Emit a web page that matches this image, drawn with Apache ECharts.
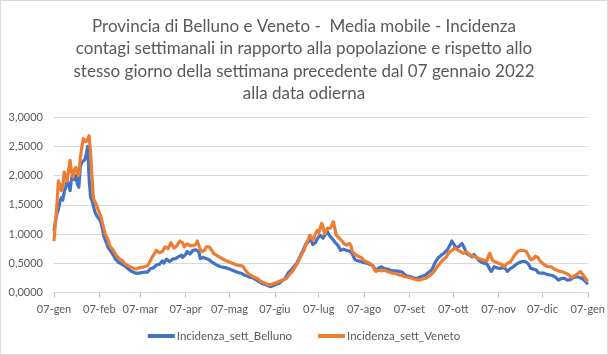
<!DOCTYPE html>
<html><head><meta charset="utf-8">
<script src="https://cdn.jsdelivr.net/npm/echarts@6/dist/echarts.min.js"></script>
<style>
html,body{margin:0;padding:0;background:#fff;}
#c{position:absolute;left:0;top:0;width:608px;height:355px;}
#b{position:absolute;left:0;top:0;width:606px;height:353px;border:1px solid #d9d9d9;pointer-events:none;}
</style></head>
<body><div id="c"></div><div id="b"></div>
<script>
const titleLines = [
  'Provincia di Belluno e Veneto -  Media mobile - Incidenza',
  'contagi settimanali in rapporto alla popolazione e rispetto allo',
  'stesso giorno della settimana precedente dal 07 gennaio 2022',
  'alla data odierna'
];
const monthNames = ['gen','feb','mar','apr','mag','giu','lug','ago','set','ott','nov','dic'];
const startDate = [2022, 0, 7];
const dayCount = 366;
const seriesNames = ['Incidenza_sett_Belluno', 'Incidenza_sett_Veneto'];

const belluno = [
1.05,1.22,1.35,1.42,1.55,1.62,1.58,1.72,1.80,1.90,
1.85,1.74,1.95,2.03,1.93,2.00,1.85,1.80,2.15,2.22,
2.20,2.27,2.35,2.50,1.95,1.63,1.57,1.55,1.38,1.32,
1.30,1.25,1.20,1.10,0.97,0.90,0.84,0.77,0.74,0.70,
0.68,0.62,0.57,0.56,0.52,0.50,0.49,0.46,0.46,0.44,
0.42,0.40,0.38,0.38,0.35,0.34,0.33,0.32,0.33,0.32,
0.34,0.33,0.35,0.36,0.35,0.38,0.41,0.44,0.42,0.44,
0.47,0.50,0.48,0.51,0.54,0.50,0.52,0.57,0.55,0.53,
0.55,0.57,0.60,0.58,0.56,0.61,0.61,0.64,0.60,0.62,
0.65,0.70,0.70,0.66,0.68,0.72,0.70,0.73,0.72,0.70,
0.58,0.55,0.60,0.61,0.58,0.59,0.56,0.53,0.52,0.50,
0.49,0.47,0.46,0.45,0.44,0.45,0.43,0.42,0.42,0.41,
0.40,0.39,0.38,0.37,0.36,0.35,0.34,0.33,0.33,0.32,
0.30,0.29,0.28,0.27,0.26,0.25,0.25,0.23,0.22,0.20,
0.19,0.17,0.16,0.15,0.14,0.13,0.12,0.11,0.10,0.11,
0.12,0.13,0.14,0.14,0.16,0.18,0.20,0.21,0.24,0.28,
0.33,0.36,0.38,0.40,0.44,0.47,0.50,0.55,0.60,0.66,
0.70,0.76,0.82,0.85,0.87,0.93,0.88,0.82,0.81,0.86,
0.92,0.95,0.98,0.96,0.93,0.97,1.00,1.04,1.02,0.95,
0.92,0.90,0.86,0.83,0.81,0.78,0.72,0.70,0.74,0.73,
0.72,0.70,0.71,0.70,0.66,0.60,0.56,0.55,0.54,0.53,
0.53,0.52,0.51,0.50,0.50,0.49,0.48,0.47,0.46,0.42,
0.38,0.40,0.42,0.44,0.44,0.42,0.41,0.40,0.40,0.39,
0.38,0.38,0.37,0.38,0.37,0.36,0.36,0.36,0.35,0.32,
0.30,0.29,0.28,0.27,0.27,0.26,0.25,0.24,0.24,0.25,
0.26,0.27,0.28,0.29,0.30,0.32,0.34,0.36,0.38,0.42,
0.48,0.53,0.56,0.60,0.62,0.64,0.66,0.68,0.70,0.73,
0.76,0.82,0.88,0.90,0.80,0.76,0.78,0.79,0.82,0.84,
0.85,0.74,0.67,0.66,0.64,0.62,0.61,0.65,0.62,0.60,
0.56,0.53,0.52,0.51,0.50,0.50,0.49,0.48,0.40,0.36,
0.37,0.44,0.43,0.42,0.41,0.41,0.42,0.43,0.44,0.40,
0.36,0.38,0.41,0.43,0.44,0.46,0.48,0.50,0.51,0.52,
0.53,0.53,0.53,0.52,0.50,0.46,0.41,0.42,0.40,0.41,
0.38,0.34,0.32,0.33,0.32,0.33,0.31,0.31,0.32,0.30,
0.29,0.29,0.28,0.26,0.23,0.21,0.22,0.24,0.23,0.24,
0.22,0.21,0.21,0.22,0.24,0.25,0.26,0.27,0.27,0.26,
0.25,0.24,0.22,0.20,0.17,0.14
];

const veneto = [
0.88,1.20,1.50,1.91,1.85,1.74,1.80,2.06,1.98,1.90,
2.10,2.26,2.05,1.97,2.10,2.14,2.05,2.00,2.30,2.48,
2.63,2.60,2.58,2.62,2.68,2.40,1.97,1.60,1.55,1.50,
1.43,1.40,1.30,1.20,1.10,1.00,0.97,0.90,0.80,0.78,
0.74,0.70,0.66,0.62,0.60,0.57,0.55,0.54,0.50,0.48,
0.47,0.46,0.44,0.43,0.42,0.41,0.40,0.41,0.42,0.41,
0.43,0.42,0.44,0.46,0.46,0.50,0.55,0.60,0.64,0.67,
0.72,0.70,0.68,0.70,0.70,0.74,0.78,0.76,0.75,0.80,
0.85,0.80,0.76,0.78,0.80,0.84,0.88,0.91,0.85,0.78,
0.80,0.83,0.82,0.80,0.79,0.80,0.80,0.82,0.88,0.85,
0.74,0.70,0.67,0.72,0.78,0.81,0.78,0.76,0.72,0.67,
0.66,0.64,0.62,0.61,0.61,0.58,0.56,0.55,0.54,0.53,
0.52,0.51,0.50,0.49,0.48,0.47,0.47,0.46,0.46,0.45,
0.42,0.38,0.35,0.32,0.30,0.29,0.28,0.26,0.25,0.24,
0.22,0.20,0.18,0.17,0.16,0.15,0.14,0.13,0.13,0.14,
0.15,0.16,0.17,0.18,0.19,0.20,0.21,0.22,0.23,0.24,
0.27,0.31,0.34,0.36,0.40,0.44,0.48,0.53,0.58,0.64,
0.68,0.72,0.80,0.86,0.92,0.98,0.94,0.90,0.95,1.02,
1.06,1.02,1.10,1.18,1.12,1.00,1.05,1.10,1.08,1.10,
1.15,1.21,1.10,0.98,0.96,0.93,0.90,0.88,0.84,0.82,
0.81,0.82,0.84,0.80,0.70,0.67,0.65,0.63,0.62,0.61,
0.60,0.58,0.55,0.53,0.52,0.51,0.50,0.48,0.45,0.40,
0.36,0.37,0.38,0.38,0.37,0.38,0.38,0.37,0.36,0.35,
0.34,0.33,0.33,0.32,0.32,0.31,0.30,0.30,0.29,0.28,
0.27,0.27,0.26,0.25,0.25,0.24,0.23,0.22,0.22,0.21,
0.21,0.22,0.23,0.24,0.24,0.25,0.27,0.29,0.31,0.33,
0.36,0.40,0.44,0.47,0.50,0.53,0.56,0.58,0.60,0.64,
0.68,0.70,0.72,0.73,0.76,0.78,0.73,0.72,0.70,0.68,
0.67,0.68,0.70,0.67,0.65,0.64,0.63,0.61,0.61,0.60,
0.58,0.58,0.57,0.56,0.55,0.54,0.54,0.62,0.67,0.60,
0.55,0.53,0.52,0.51,0.50,0.50,0.48,0.46,0.44,0.46,
0.50,0.48,0.52,0.56,0.60,0.64,0.67,0.70,0.71,0.72,
0.72,0.72,0.71,0.70,0.67,0.60,0.56,0.57,0.58,0.62,
0.64,0.60,0.55,0.52,0.50,0.48,0.46,0.44,0.44,0.43,
0.44,0.42,0.40,0.39,0.38,0.37,0.36,0.37,0.35,0.34,
0.33,0.32,0.30,0.27,0.25,0.27,0.29,0.30,0.32,0.34,
0.36,0.33,0.29,0.26,0.22,0.19
];

const categories = [];
for (let i = 0; i < dayCount; i++) {
  const d = new Date(startDate[0], startDate[1], startDate[2] + i);
  categories.push(String(d.getDate()).padStart(2, '0') + '-' + monthNames[d.getMonth()]);
}
const isTick = (i, v) => v.slice(0, 3) === '07-';

const FONT = 'Lato, sans-serif';
const chart = echarts.init(document.getElementById('c'), null, {renderer: 'canvas'});
chart.setOption({
  animation: false,
  backgroundColor: '#fff',
  title: {
    text: titleLines.join('\n'),
    left: 'center', top: 10,
    textStyle: {fontFamily: FONT, fontSize: 17, fontWeight: 'normal', color: '#595959', lineHeight: 22.5}
  },
  legend: {
    bottom: 8, left: 'center',
    icon: 'rect', itemWidth: 27, itemHeight: 4, itemGap: 26,
    textStyle: {fontFamily: FONT, fontSize: 11.5, color: '#595959', padding: [0, 0, 0, -3]},
    data: seriesNames
  },
  grid: {left: 54, right: 17, top: 117, bottom: 62.5, containLabel: false},
  xAxis: {
    type: 'category', boundaryGap: false, data: categories,
    axisLine: {lineStyle: {color: '#d9d9d9', width: 1}},
    axisTick: {show: true, interval: isTick, length: 5, lineStyle: {color: '#bfbfbf'}},
    axisLabel: {interval: isTick, margin: 11, fontFamily: FONT, fontSize: 11, color: '#595959',
      formatter: v => v},
    splitLine: {show: false}
  },
  yAxis: {
    type: 'value', min: 0, max: 3, interval: 0.5,
    axisLine: {show: false}, axisTick: {show: false},
    axisLabel: {margin: 11, fontFamily: FONT, fontSize: 11, color: '#595959',
      formatter: v => v.toFixed(4).replace('.', ',')},
    splitLine: {lineStyle: {color: '#d9d9d9', width: 1}}
  },
  series: [
    {name: seriesNames[0], type: 'line', data: belluno, symbol: 'none', color: '#4472C4',
     lineStyle: {width: 3.2, color: '#4472C4', join: 'round'}},
    {name: seriesNames[1], type: 'line', data: veneto, symbol: 'none', color: '#ED7D31',
     lineStyle: {width: 3.2, color: '#ED7D31', join: 'round'}}
  ]
});
</script></body></html>
